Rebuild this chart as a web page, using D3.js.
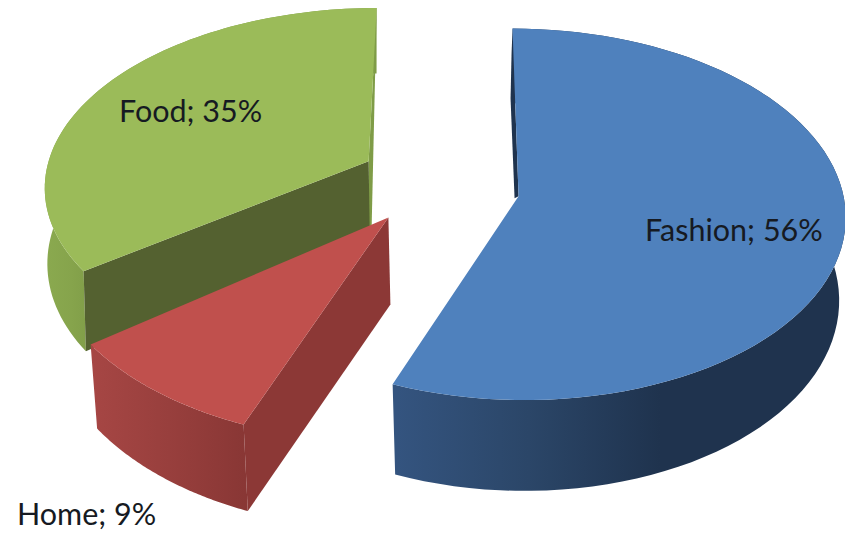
<!DOCTYPE html>
<html>
<head>
<meta charset="utf-8">
<script src="https://cdn.jsdelivr.net/npm/d3@7"></script>
<style>
html,body{margin:0;padding:0;background:#fff;overflow:hidden}
svg{display:block}
text{font-family:Lato,"Noto Sans",sans-serif;font-size:30.5px;fill:#161a22}
</style>
</head>
<body>
<svg id="chart" width="845" height="533"></svg>
<script>
// Share of spending by category
const categories = ["Fashion", "Home", "Food"];
const shares = [56, 9, 35];

const topColors = ["#4f81bd", "#c0504d", "#9bbb59"];
const cutColors = ["#1f334e", "#8c3836", "#546130"];
const rimStops = [
  ["#34547f", "#2b4668", "#1f334e"],
  ["#a64644", "#983f3d", "#893735"],
  ["#8aa94f", "#86a44c", "#7f9c47"]
];

const svg = d3.select("#chart");
const defs = svg.append("defs");

// Exploded disc seen obliquely: slice tips are pushed outward along their bisectors
const view = {cx: 437, cy: 188, rx: 332, ry: 184, persp: 0.081, explode: 0.24};
function project(x, z) {
  const s = 1 / (1 + view.persp * z);
  return {x: view.cx + view.rx * x * s, y: view.cy - view.ry * z * s};
}

// Per-slice lens: radii, foreshortening, shear with depth, wall height, tip correction
const lens = [
  {rx: 325, ry: 184, p: 0.097, shear: -6, wall: 82, lean: 0.98, nudge: [3, 0]},
  {rx: 345, ry: 206, p: 0.081, shear: 8, wall: 80, lean: 0.985, nudge: [1, -6]},
  {rx: 320, ry: 173, p: 0.13, shear: 8, wall: 74, lean: 0.992, nudge: [2, -7]}
];

const arcs = d3.pie().sort(null).value(d => d)(shares);
const outline = d3.line().x(p => p.x).y(p => p.y);

const slices = arcs.map((a, i) => {
  const L = lens[i];
  const mid = (a.startAngle + a.endAngle) / 2;
  const tip = project(Math.sin(mid) * view.explode, Math.cos(mid) * view.explode);
  const apex = {x: tip.x + L.nudge[0], y: tip.y + L.nudge[1], s: 1};
  const at = t => {
    const z = Math.cos(t), s = 1 / (1 + L.p * z);
    return {x: apex.x + L.rx * Math.sin(t) * s + L.shear * z, y: apex.y - L.ry * z * s, s};
  };
  const rim = d3.range(0, 1.0001, 1 / 80).map(u => at(a.startAngle + u * (a.endAngle - a.startAngle)));
  const lower = q => ({x: apex.x + (q.x - apex.x) * L.lean + (i === 1 ? 2 : 0), y: q.y + L.wall * q.s});
  return {i, apex, rim, lower};
});

const wallSpan = [[397, 660], [93, 245], [47, 95]];

// Back to front: Food, then Fashion, then Home
[2, 0, 1].forEach(i => {
  const {apex, rim, lower} = slices[i];
  const g = svg.append("g").attr("class", "slice slice-" + categories[i].toLowerCase());

  // Outer wall with a horizontal shading ramp
  const grad = defs.append("linearGradient").attr("id", "rim" + i)
    .attr("gradientUnits", "userSpaceOnUse")
    .attr("x1", wallSpan[i][0]).attr("x2", wallSpan[i][1]).attr("y1", 0).attr("y2", 0);
  rimStops[i].forEach((c, k) => grad.append("stop").attr("offset", k / 2).attr("stop-color", c));
  g.append("path")
    .attr("d", outline([...rim, ...rim.map(lower).reverse()]) + "Z")
    .attr("fill", `url(#rim${i})`);

  const first = rim[0], last = rim[rim.length - 1];
  const face = (pts, fill) => g.append("path").attr("d", outline(pts) + "Z").attr("fill", fill);
  if (i === 2) {
    // Food: long cut face toward the viewer and a narrow face on the right
    face([last, apex, {x: apex.x, y: apex.y + 66}, {x: apex.x + 3, y: apex.y + 66}], rimStops[2][2]);
    face([first, apex, {x: apex.x + 1, y: apex.y + 66}, lower(first)], cutColors[2]);
  }
  if (i === 1) {
    face([apex, first, lower(first), {x: apex.x + 2, y: apex.y + 87}], cutColors[1]);
  }
  if (i === 0) {
    // Fashion: thin sliver of the cut face left of the top surface
    face([first, apex, {x: apex.x - 4, y: apex.y + 2}, {x: first.x - 2, y: first.y + 70}, {x: first.x - 1, y: first.y + 25}], cutColors[0]);
  }

  // Top surface
  g.append("path").attr("d", outline([apex, ...rim]) + "Z").attr("fill", topColors[i]);
});

// Data labels
const labelSpots = [[645, 241], [17, 525], [119, 122]];
svg.append("g").selectAll("text").data(categories).join("text")
  .attr("x", (d, i) => labelSpots[i][0])
  .attr("y", (d, i) => labelSpots[i][1])
  .text((d, i) => `${d}; ${shares[i]}%`);
</script>
</body>
</html>
